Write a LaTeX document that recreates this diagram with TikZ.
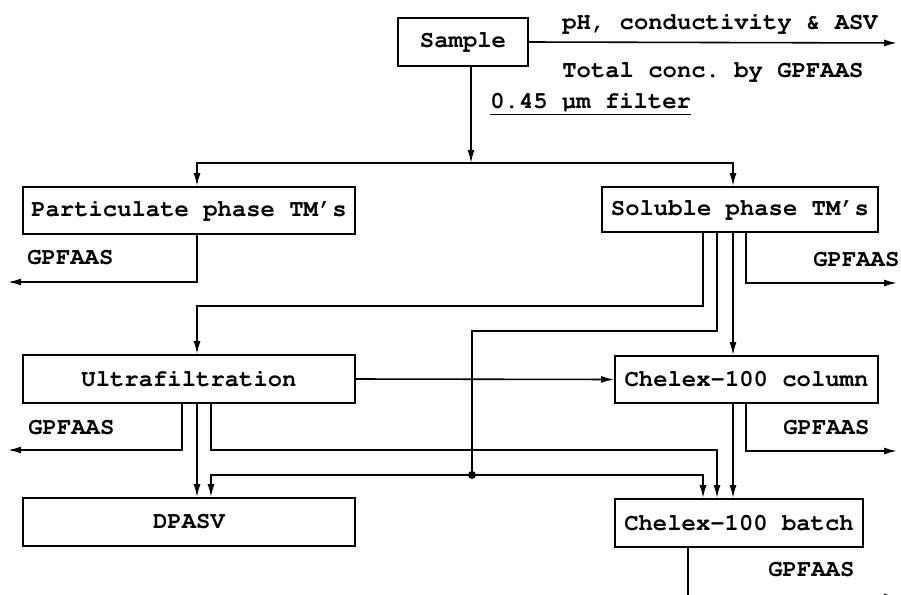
\documentclass[tikz,border=0pt]{standalone}
\usepackage[T1]{fontenc}
\usepackage{courier}
\usepackage{tikz}
\usetikzlibrary{
  arrows.meta,
  positioning
}
\newcommand{\flowfont}{\ttfamily\bfseries\fontsize{13.6}{16}\selectfont\frenchspacing}
\tikzset{
  stepbox/.style={draw, line width=1.1pt, inner sep=0pt,
    align=center, font=\flowfont},
  arr/.style={-{Latex[length=2.6mm, width=1.4mm]}, line width=0.9pt},
  ln/.style={line width=0.9pt},
  lbl/.style={anchor=west, inner sep=0pt, font=\flowfont},
}

\begin{document}
\begin{tikzpicture}[x=0.02cm, y=-0.02cm]
  \useasboundingbox (0,0) rectangle (901,594);
  \clip (0,0) rectangle (901,594);

  % Boxes
  \node[stepbox, minimum width=2.6cm, minimum height=0.96cm] (S) at (463,42) {Sample};
  \node[stepbox, minimum width=6.64cm, minimum height=0.94cm] (part) at (189,210.5)
    {Particulate phase TM's};
  \node[stepbox, minimum width=5.52cm, minimum height=0.9cm] (sol) at (740,209.5)
    {Soluble phase TM's};
  \node[stepbox, minimum width=6.64cm, minimum height=0.96cm] (uf) at (189,379)
    {Ultrafiltration};
  \node[stepbox, minimum width=5.26cm, minimum height=0.94cm] (col) at (746.5,379.5)
    {Chelex-100 column};
  \node[stepbox, minimum width=6.64cm, minimum height=0.96cm] (dp) at (189,522)
    {DPASV};
  \node[stepbox, minimum width=4.96cm, minimum height=0.96cm] (bat) at (739,523)
    {Chelex-100 batch};

  % Labels
  \node[lbl] (ph) at (562,23) {pH, conductivity \& ASV};
  \node[lbl] (tot) at (562,72) {Total conc.\ by GPFAAS};
  \node[lbl] (filt) at (490,104) {\underline{0.45 \textmu m filter}};
  \node[lbl] (gpA) at (27,258) {GPFAAS};
  \node[lbl] (gpB) at (813,260) {GPFAAS};
  \node[lbl] (gpC) at (28,428) {GPFAAS};
  \node[lbl] (gpD) at (783,428) {GPFAAS};
  \node[lbl] (gpE) at (768,570) {GPFAAS};

  % Free ends and junctions
  \coordinate (split) at (471,163);
  \coordinate (hub) at (472,475);
  \coordinate (outS) at (897,43);
  \coordinate (outA) at (8,282);
  \coordinate (outB) at (897,283);
  \coordinate (outC) at (8,450);
  \coordinate (outD) at (897,451);
  \coordinate (outE) at (897,597);

  % Sample
  \draw[arr] (S.east) -- (outS);
  \draw[arr] (S.south -| split) -- (split);
  \draw[arr] (split) -| (part.north -| 197,0);
  \draw[arr] (split) -| (sol.north -| 733,0);

  % Particulate phase
  \draw[arr] (part.south -| 197,0) |- (outA);

  % Soluble phase
  \draw[arr] (sol.south -| 703,0) -- (703,306) -| (uf.north -| 197,0);
  \draw[ln] (sol.south -| 717,0) -- (717,331) -| (hub);
  \draw[arr] (sol.south -| 733,0) -- (col.north -| 733,0);
  \draw[arr] (sol.south -| 746,0) |- (outB);
  \fill (hub) circle (4);
  \draw[arr] (hub) -| (dp.north -| 211,0);
  \draw[arr] (hub) -| (bat.north -| 703,0);

  % Ultrafiltration
  \draw[arr] (uf.east) -- (col.west);
  \draw[arr] (uf.south -| 182,0) |- (outC);
  \draw[arr] (uf.south -| 197,0) -- (dp.north -| 197,0);
  \draw[arr] (uf.south -| 211,0) -- (211,450) -| (bat.north -| 717,0);

  % Chelex-100 column
  \draw[arr] (col.south -| 733,0) -- (bat.north -| 733,0);
  \draw[arr] (col.south -| 746,0) |- (outD);

  % Chelex-100 batch
  \draw[arr] (bat.south -| 688,0) |- (outE);
\end{tikzpicture}
\end{document}
